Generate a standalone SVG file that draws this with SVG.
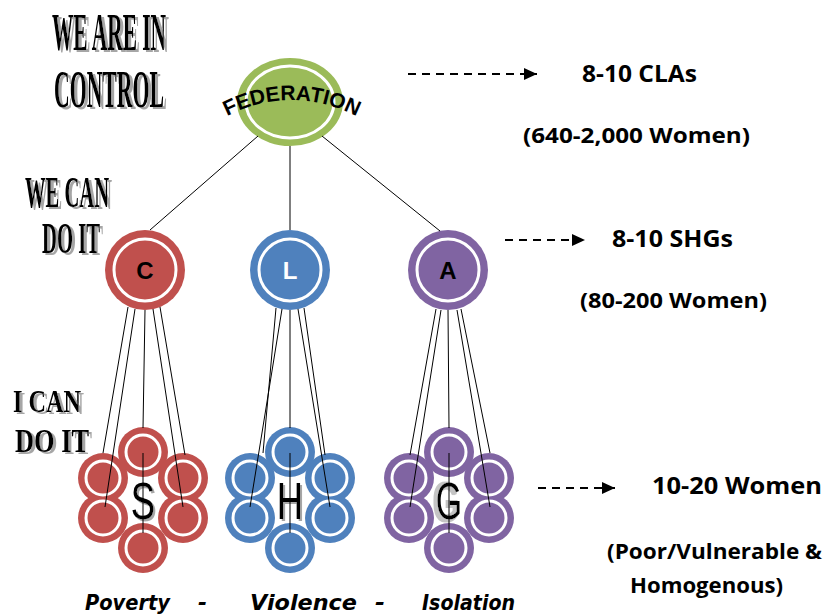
<svg xmlns="http://www.w3.org/2000/svg" width="827" height="616" viewBox="0 0 827 616">
<style>
.hd{font-family:"Liberation Serif","Times New Roman",serif;font-weight:bold;fill:#000;filter:url(#shd)}
.rt{font-family:"Open Sans","Liberation Sans",sans-serif;font-weight:bold;fill:#000}
.ln{stroke:#000;stroke-width:1;fill:none}
.ar{stroke:#000;stroke-width:2;stroke-dasharray:8,6;fill:none}
.red{fill:#C0504D}.blue{fill:#4F81BD}.pur{fill:#8064A2}.grn{fill:#9BBB59}
.ring{fill:none;stroke:#fff;stroke-width:3}
.lt{font-family:"Liberation Sans",Arial,sans-serif;font-weight:bold;font-size:24px;text-anchor:middle}
.big{font-family:"Liberation Sans",Arial,sans-serif;font-size:52px;text-anchor:middle;fill:#000}
.pv{font-family:"Comic Sans MS","DejaVu Sans",sans-serif;font-weight:bold;font-style:italic;font-size:21px;fill:#000}
</style>
<defs>
<filter id="shd" x="-10%" y="-20%" width="130%" height="150%">
<feOffset in="SourceAlpha" dx="3" dy="2" result="o"/>
<feFlood flood-color="#a6a6a6"/>
<feComposite in2="o" operator="in" result="s"/>
<feMerge><feMergeNode in="s"/><feMergeNode in="SourceGraphic"/></feMerge>
</filter>
<filter id="shdG" x="-60%" y="-20%" width="200%" height="150%">
<feMorphology in="SourceAlpha" operator="dilate" radius="1.5" result="d"/>
<feOffset in="d" dx="-5" dy="1" result="o"/>
<feFlood flood-color="#c4c4c4"/>
<feComposite in2="o" operator="in" result="s"/>
<feMerge><feMergeNode in="s"/><feMergeNode in="SourceGraphic"/></feMerge>
</filter>
<marker id="ah" markerUnits="userSpaceOnUse" markerWidth="14" markerHeight="12" refX="13" refY="6" orient="auto">
<path d="M0,0 L13,6 L0,12 z" fill="#000"/>
</marker>
<g id="flower">
<circle cx="0" cy="-48" r="25"/><circle cx="-40" cy="-22" r="25"/><circle cx="40" cy="-22" r="25"/>
<circle cx="-40" cy="18" r="25"/><circle cx="40" cy="18" r="25"/><circle cx="0" cy="48" r="25"/>
<circle class="ring" cx="0" cy="-48" r="17"/><circle class="ring" cx="-40" cy="-22" r="17"/><circle class="ring" cx="40" cy="-22" r="17"/>
<circle class="ring" cx="-40" cy="18" r="17"/><circle class="ring" cx="40" cy="18" r="17"/><circle class="ring" cx="0" cy="48" r="17"/>
</g>
<path id="fedArc" d="M 210,126 Q 290,74 374,126"/>
</defs>

<g id="labels-left">
<text class="hd" x="52" y="50" font-size="53" textLength="114" lengthAdjust="spacingAndGlyphs">WE ARE IN</text>
<text class="hd" x="54" y="107" font-size="53" textLength="110" lengthAdjust="spacingAndGlyphs">CONTROL</text>
<text class="hd" x="25" y="207" font-size="44" textLength="84" lengthAdjust="spacingAndGlyphs">WE CAN</text>
<text class="hd" x="42" y="253" font-size="44" textLength="58" lengthAdjust="spacingAndGlyphs">DO IT</text>
<text class="hd" x="13" y="412" font-size="31" textLength="68" lengthAdjust="spacingAndGlyphs">I CAN</text>
<text class="hd" x="15" y="452" font-size="33" textLength="74" lengthAdjust="spacingAndGlyphs">DO IT</text>
</g>

<g id="federation">
<ellipse cx="290" cy="102" rx="53" ry="44" class="grn"/>
<ellipse cx="290" cy="102" rx="44" ry="36" class="ring"/>
<text font-family="Liberation Sans, Arial, sans-serif" font-size="21" font-weight="bold" fill="#000"><textPath href="#fedArc" startOffset="50%" text-anchor="middle">FEDERATION</textPath></text>
</g>

<g id="node-C">
<circle cx="145" cy="270" r="40" class="red"/>
<circle cx="145" cy="270" r="31" class="ring"/>
<text class="lt" x="145" y="279" fill="#000">C</text>
</g>
<g id="node-L">
<circle cx="290" cy="270" r="40" class="blue"/>
<circle cx="290" cy="270" r="31" class="ring"/>
<text class="lt" x="290" y="279" fill="#fff">L</text>
</g>
<g id="node-A">
<circle cx="448" cy="270" r="40" class="pur"/>
<circle cx="448" cy="270" r="31" class="ring"/>
<text class="lt" x="448" y="279" fill="#000">A</text>
</g>

<g id="cluster-S">
<use href="#flower" x="143" y="500" class="red"/>
<text class="big" filter="url(#shd)" transform="translate(143,519) scale(0.7,1)">S</text>
</g>
<g id="cluster-H">
<use href="#flower" x="290" y="500" class="blue"/>
<text class="big" filter="url(#shd)" transform="translate(290,519) scale(0.7,1)">H</text>
</g>
<g id="cluster-G">
<use href="#flower" x="449" y="500" class="pur"/>
<text class="big" filter="url(#shdG)" transform="translate(449,519) scale(0.65,1)">G</text>
</g>

<g id="connectors">
<line class="ln" x1="258" y1="136" x2="150" y2="230"/>
<line class="ln" x1="290" y1="146" x2="290" y2="230"/>
<line class="ln" x1="322" y1="136" x2="440" y2="231"/>

<line class="ln" x1="128" y1="307" x2="103" y2="453"/>
<line class="ln" x1="135" y1="309" x2="105" y2="507"/>
<line class="ln" x1="145" y1="310" x2="143" y2="428"/>
<line class="ln" x1="143" y1="453" x2="143" y2="533"/>
<line class="ln" x1="153" y1="309" x2="183" y2="507"/>
<line class="ln" x1="160" y1="307" x2="185" y2="455"/>

<line class="ln" x1="276" y1="308" x2="263" y2="453"/>
<line class="ln" x1="282" y1="309" x2="250" y2="507"/>
<line class="ln" x1="290" y1="310" x2="290" y2="428"/>
<line class="ln" x1="290" y1="453" x2="290" y2="533"/>
<line class="ln" x1="298" y1="309" x2="330" y2="507"/>
<line class="ln" x1="304" y1="308" x2="325" y2="455"/>

<line class="ln" x1="436" y1="309" x2="410" y2="455"/>
<line class="ln" x1="441" y1="310" x2="410" y2="507"/>
<line class="ln" x1="448" y1="310" x2="449" y2="428"/>
<line class="ln" x1="449" y1="453" x2="449" y2="533"/>
<line class="ln" x1="457" y1="310" x2="490" y2="507"/>
<line class="ln" x1="461" y1="309" x2="490" y2="453"/>

<line class="ar" x1="408" y1="74" x2="537" y2="74" marker-end="url(#ah)"/>
<line class="ar" x1="505" y1="240" x2="585" y2="240" marker-end="url(#ah)"/>
<line class="ar" x1="538" y1="488" x2="615" y2="488" marker-end="url(#ah)"/>
</g>

<g id="labels-right">
<text class="rt" x="582" y="82" font-size="23" textLength="115" lengthAdjust="spacingAndGlyphs">8-10 CLAs</text>
<text class="rt" x="523" y="143" font-size="21" textLength="227" lengthAdjust="spacingAndGlyphs">(640-2,000 Women)</text>
<text class="rt" x="612" y="247" font-size="23" textLength="121" lengthAdjust="spacingAndGlyphs">8-10 SHGs</text>
<text class="rt" x="580" y="308" font-size="21" textLength="187" lengthAdjust="spacingAndGlyphs">(80-200 Women)</text>
<text class="rt" x="652" y="494" font-size="23" textLength="170" lengthAdjust="spacingAndGlyphs">10-20 Women</text>
<text class="rt" x="607" y="559" font-size="21" textLength="215" lengthAdjust="spacingAndGlyphs">(Poor/Vulnerable &amp;</text>
<text class="rt" x="630" y="593" font-size="21" textLength="153" lengthAdjust="spacingAndGlyphs">Homogenous)</text>
</g>

<g id="labels-bottom">
<text class="pv" x="85" y="610" textLength="85" lengthAdjust="spacingAndGlyphs">Poverty</text>
<text class="pv" x="198" y="610" textLength="9" lengthAdjust="spacingAndGlyphs">-</text>
<text class="pv" x="250" y="610" textLength="107" lengthAdjust="spacingAndGlyphs">Violence</text>
<text class="pv" x="375" y="610" textLength="10" lengthAdjust="spacingAndGlyphs">-</text>
<text class="pv" x="422" y="610" textLength="93" lengthAdjust="spacingAndGlyphs">Isolation</text>
</g>
</svg>
